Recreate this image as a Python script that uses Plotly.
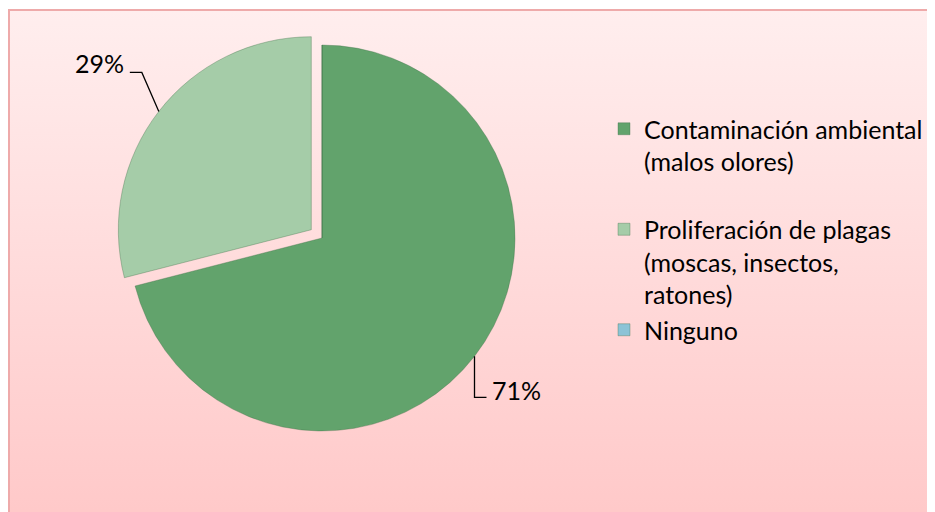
import math
import base64
import plotly.graph_objects as go

# ---- data ----
labels = [
    "Contaminación ambiental<br>(malos olores)<br> ",
    "Proliferación de plagas<br>(moscas, insectos,<br>ratones)",
    "Ninguno",
]
values = [71, 29, 0]
colors = ["#62a36c", "#a5cca8", "#8cc3d6"]
pulls = [0, 0.07, 0]

# ---- geometry (screen pixels; the page body adds an 8px offset) ----
OFF = 8
W, H = 935 - OFF, 512 - OFF
CX, CY, R = 322, 238, 193
FONT = "Lato"
FS = 25


def px(x):
    return (x - OFF) / W


def py(y):
    return 1 - (y - OFF) / H


half = R * (1 + max(pulls))
domain_x = [px(CX - half), px(CX + half)]
domain_y = [py(CY + half), py(CY - half)]

fig = go.Figure(
    go.Pie(
        labels=labels,
        values=values,
        sort=False,
        direction="clockwise",
        rotation=0,
        pull=pulls,
        marker=dict(colors=colors, line=dict(color="rgba(60,110,70,0.35)", width=1)),
        textinfo="none",
        domain=dict(x=domain_x, y=domain_y),
        hoverinfo="label+percent",
    )
)

# data labels with elbow leader lines, positioned from slice mid-angles
leader = [
    dict(vx=0, vy=41, hx=12, tx=4, ty=-7, anchor="left"),
    dict(vx=-17, vy=-39, hx=-12, tx=-4, ty=-9, anchor="right"),
    None,
]
total = sum(values)
cum = 0
shapes = []
annotations = []
for v, p, ld in zip(values, pulls, leader):
    mid = math.radians((cum + v / 2) / total * 360)
    cum += v
    if v <= 0 or ld is None:
        continue
    s, c = math.sin(mid), math.cos(mid)
    ex = CX + R * s * (1 + p)
    ey = CY - R * c * (1 + p)
    x1, y1 = ex + ld["vx"], ey + ld["vy"]
    x2, y2 = x1 + ld["hx"], y1
    shapes.append(dict(
        type="path", xref="paper", yref="paper",
        path=f"M{px(ex)},{py(ey)} L{px(x1)},{py(y1)} L{px(x2)},{py(y2)}",
        line=dict(color="black", width=1.3),
    ))
    annotations.append(dict(
        x=px(x2 + ld["tx"]), y=py(y2 + ld["ty"]), xref="paper", yref="paper",
        xanchor=ld["anchor"], yanchor="middle", showarrow=False,
        text=f"{round(v / total * 100)}%",
        font=dict(family=FONT, size=FS, color="black"),
    ))

# gradient background with border (border sits right at the page offset)
svg = f"""<svg xmlns='http://www.w3.org/2000/svg' width='{W}' height='{H}' viewBox='0 0 {W} {H}' preserveAspectRatio='none'>
<defs><linearGradient id='g' x1='0' y1='0' x2='0' y2='1'>
<stop offset='0' stop-color='#ffeeee'/><stop offset='1' stop-color='#ffc8c8'/></linearGradient></defs>
<rect x='0' y='0' width='{W}' height='{H}' fill='white'/>
<rect x='1' y='2' width='{W + 10}' height='{H + 10}' fill='url(#g)' stroke='#eeaaaa' stroke-width='2'/>
</svg>"""
src = "data:image/svg+xml;base64," + base64.b64encode(svg.encode()).decode()

fig.update_layout(
    width=W, height=H,
    margin=dict(l=0, r=0, t=0, b=0),
    paper_bgcolor="white",
    showlegend=True,
    legend=dict(
        x=px(604), y=py(106), xanchor="left", yanchor="top",
        font=dict(family=FONT, size=FS, color="black"),
        bgcolor="rgba(0,0,0,0)", valign="top",
        traceorder="normal",
    ),
    images=[dict(source=src, xref="paper", yref="paper", x=0, y=1,
                 sizex=1, sizey=1, xanchor="left", yanchor="top",
                 sizing="stretch", layer="below")],
    shapes=shapes,
    annotations=annotations,
)

fig.write_html("out.html")
